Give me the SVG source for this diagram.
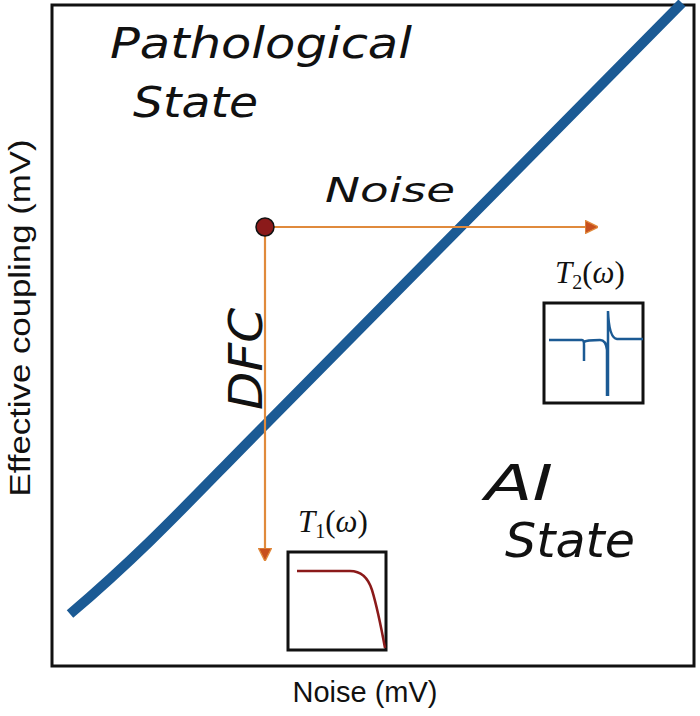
<svg xmlns="http://www.w3.org/2000/svg" width="700" height="716" viewBox="0 0 700 716">
<style>
.hand{font-family:"DejaVu Sans","Liberation Sans",sans-serif;font-style:oblique;font-weight:200;fill:#111}
.ax{font-family:"Liberation Sans",Arial,sans-serif;font-size:29px;fill:#111}
.math{font-family:"Liberation Serif","Times New Roman",serif;font-size:31px;fill:#111}
.box{fill:#fff;stroke:#111;stroke-width:3}
.arr{stroke:#e08a3c;stroke-width:2.2;fill:none}
</style>
<defs>
<marker id="ah" viewBox="0 0 10 10" refX="9" refY="5" markerWidth="6" markerHeight="6" orient="auto" markerUnits="strokeWidth">
<path d="M0,0 L10,5 L0,10 Z" fill="#c8501e" stroke="#e08a3c" stroke-width="1"/>
</marker>
</defs>
<rect width="700" height="716" fill="#fff"/>
<g id="frame"><rect x="52" y="5" width="642" height="661" fill="none" stroke="#111" stroke-width="3"/></g>
<g id="boundary"><path d="M70,614 C150,546 200,490 265,425 L682,3" fill="none" stroke="#1b5a94" stroke-width="10"/></g>
<g id="connectors">
<line class="arr" x1="265" y1="227" x2="597" y2="227" marker-end="url(#ah)"/>
<line class="arr" x1="265" y1="227" x2="265" y2="560" marker-end="url(#ah)"/>
</g>
<g id="start"><circle cx="265" cy="227" r="9" fill="#8b1a1a" stroke="#111" stroke-width="1.5"/></g>
<g id="labels">
<text class="hand" x="110" y="58" font-size="42" textLength="302" lengthAdjust="spacingAndGlyphs">Pathological</text>
<text class="hand" x="133" y="117" font-size="42" textLength="125" lengthAdjust="spacingAndGlyphs">State</text>
<text class="hand" x="325" y="202" font-size="34" textLength="130" lengthAdjust="spacingAndGlyphs">Noise</text>
<text class="hand" x="262" y="359" font-size="46" text-anchor="middle" textLength="102" lengthAdjust="spacingAndGlyphs" transform="rotate(-90 262 359)">DFC</text>
<text class="hand" x="485" y="500" font-size="50" textLength="68" lengthAdjust="spacingAndGlyphs">AI</text>
<text class="hand" x="505" y="557" font-size="48" textLength="130" lengthAdjust="spacingAndGlyphs">State</text>
</g>
<g id="t2">
<text class="math" x="555" y="283"><tspan font-style="italic">T</tspan><tspan font-size="20" dy="6">2</tspan><tspan dy="-6">(</tspan><tspan font-style="italic">ω</tspan>)</text>
<rect class="box" x="544" y="303" width="99" height="100"/>
<path d="M549,340 L582,340 Q584,340 584,345 L584,361 M584,342 Q586,340 600,340 Q606,340 607,350 L607,396 M608,396 L608,311 Q609,338 617,339 L643,339" fill="none" stroke="#1b5a94" stroke-width="2.5"/>
</g>
<g id="t1">
<text class="math" x="298" y="532"><tspan font-style="italic">T</tspan><tspan font-size="20" dy="6">1</tspan><tspan dy="-6">(</tspan><tspan font-style="italic">ω</tspan>)</text>
<rect class="box" x="288" y="552" width="98" height="98"/>
<path d="M297,571 L350,571 Q366,571 372,590 Q378,610 385,648" fill="none" stroke="#8b1a1a" stroke-width="2.5"/>
</g>
<g id="axes">
<text class="ax" x="365" y="702" text-anchor="middle">Noise (mV)</text>
<text class="ax" x="30" y="318" text-anchor="middle" textLength="357" lengthAdjust="spacingAndGlyphs" transform="rotate(-90 30 318)">Effective coupling  (mV)</text>
</g>
</svg>
